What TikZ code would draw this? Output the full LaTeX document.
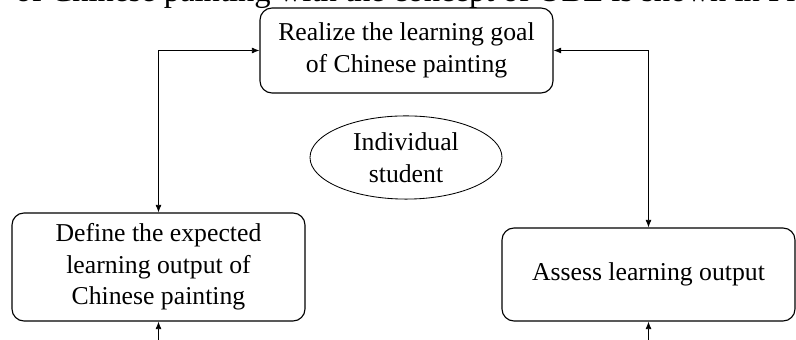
\documentclass[tikz,border=0pt]{standalone}
\usepackage{fontspec}
\setmainfont{Liberation Serif}
\usetikzlibrary{arrows.meta,shapes.geometric}
\begin{document}
\begin{tikzpicture}[>={Latex[length=1.9mm,width=1.5mm]}]
	\tikzstyle{box}=[draw=black,rounded corners=0.3cm,line width=0.8pt,align=center,inner sep=0pt,minimum width=7.325cm,font=\fontsize{18.3}{22.4}\selectfont]
	\tikzstyle{link}=[line width=0.6pt]
	\clip (0,0) rectangle (19.9,8.5);
	\node[anchor=base west,inner sep=0pt,font=\fontsize{23.2}{27}\selectfont] (cap) at (0.375,8.46) {of Chinese painting with the concept of OBE is shown in Fig};
	\node[box,minimum height=2.125cm] (goal) at (10.1625,7.2375) {Realize the learning goal\\of Chinese painting};
	\node[box,minimum height=2.7cm] (define) at (3.9625,1.825) {Define the expected\\learning output of\\Chinese painting};
	\node[box,minimum height=2.325cm] (assess) at (16.2125,1.6375) {Assess learning output};
	\node[ellipse,draw=black,line width=0.6pt,inner sep=0pt,minimum width=4.8cm,minimum height=2.08cm,align=center,font=\fontsize{18.3}{22.4}\selectfont] (student) at (10.15,4.5625) {Individual\\student};
	\coordinate (d0) at (3.9625,0);
	\coordinate (a0) at (16.2125,0);
	\draw[link,<->] (define.north) |- (goal.west);
	\draw[link,<->] (assess.north) |- (goal.east);
	\draw[link,->] (d0) -- (define.south);
	\draw[link,->] (a0) -- (assess.south);
\end{tikzpicture}
\end{document}
